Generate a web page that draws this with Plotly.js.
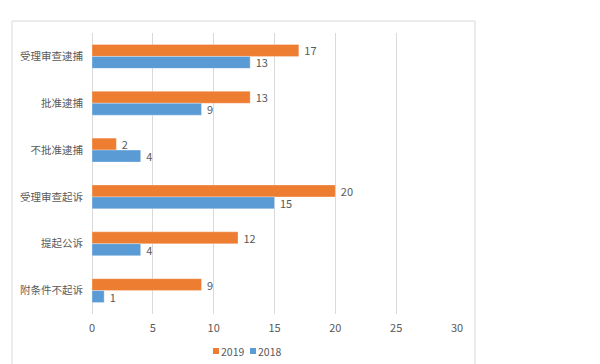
<!DOCTYPE html>
<html>
<head>
<meta charset="utf-8">
<script src="https://cdn.plot.ly/plotly-3.0.1.min.js"></script>
<style>
html,body{margin:0;padding:0;background:#fff;}
#chart{width:600px;height:364px;}
</style>
</head>
<body>
<div id="chart"></div>
<script>
const categories = ["受理审查逮捕", "批准逮捕", "不批准逮捕", "受理审查起诉", "提起公诉", "附条件不起诉"];
const seriesNames = ["2019", "2018"];
const values2019 = [17, 13, 2, 20, 12, 9];
const values2018 = [13, 9, 4, 15, 4, 1];
const xTicks = [0, 5, 10, 15, 20, 25, 30];
const colors = ["#ED7D31", "#5B9BD5"];

const font = "'Noto Sans CJK SC', 'Noto Sans', sans-serif";
const textColor = "#595959";

function barTrace(name, vals, color) {
  return {
    type: "bar", orientation: "h", name: name,
    y: categories, x: vals,
    marker: {color: color, line: {color: "rgba(255,255,255,0.6)", width: 0.5}},
    texttemplate: "\u00a0%{x}", textposition: "outside", cliponaxis: false,
    constraintext: "none",
    textfont: {family: font, size: 11, color: textColor},
    hoverinfo: "x+name"
  };
}

const traces = [
  barTrace(seriesNames[0], values2019, colors[0]),
  barTrace(seriesNames[1], values2018, colors[1])
];

// plot area: x 92..457 px, y 33..314 px
const plotL = 92, plotR = 457, plotT = 33, plotB = 314;
const pw = plotR - plotL, ph = plotB - plotT;
const px = v => (v - plotL) / pw;
const py = v => (plotB - v) / ph;

const legendY = 351;
const legendItems = [{sq: 213, tx: 219}, {sq: 250, tx: 256}];

const shapes = [{
  type: "rect", xref: "paper", yref: "paper", layer: "below",
  x0: px(12), x1: px(475), y0: py(372), y1: py(21),
  line: {color: "#D9D9D9", width: 1}, fillcolor: "rgba(0,0,0,0)"
}];
const annotations = [];
legendItems.forEach((it, i) => {
  shapes.push({
    type: "rect", xref: "paper", yref: "paper",
    x0: px(it.sq), x1: px(it.sq + 6), y0: py(legendY + 3), y1: py(legendY - 3),
    line: {width: 0}, fillcolor: colors[i]
  });
  annotations.push({
    xref: "paper", yref: "paper", x: px(it.tx), y: py(legendY),
    xanchor: "left", yanchor: "middle", showarrow: false,
    text: seriesNames[i], font: {family: font, size: 10.5, color: textColor}
  });
});

const layout = {
  width: 600, height: 364,
  margin: {l: plotL, r: 600 - plotR, t: plotT, b: 364 - plotB},
  paper_bgcolor: "#fff", plot_bgcolor: "#fff",
  barmode: "group", bargap: 0.49, bargroupgap: 0,
  font: {family: font, size: 11, color: textColor},
  showlegend: false,
  xaxis: {
    range: [0, 30], tickvals: xTicks, ticktext: xTicks.map(String),
    showgrid: true, gridcolor: "#D9D9D9", gridwidth: 1,
    zeroline: true, zerolinecolor: "#D9D9D9", zerolinewidth: 1,
    showline: false, ticks: "", ticklabelstandoff: 6,
    tickfont: {family: font, size: 11, color: textColor},
    automargin: false, fixedrange: true
  },
  yaxis: {
    autorange: "reversed", type: "category",
    showgrid: false, zeroline: false, showline: false, ticks: "",
    ticklabelstandoff: 8,
    tickfont: {family: font, size: 10.5, color: textColor},
    automargin: false, fixedrange: true
  },
  shapes: shapes,
  annotations: annotations
};

Plotly.newPlot("chart", traces, layout, {displayModeBar: false, staticPlot: true});
</script>
</body>
</html>
